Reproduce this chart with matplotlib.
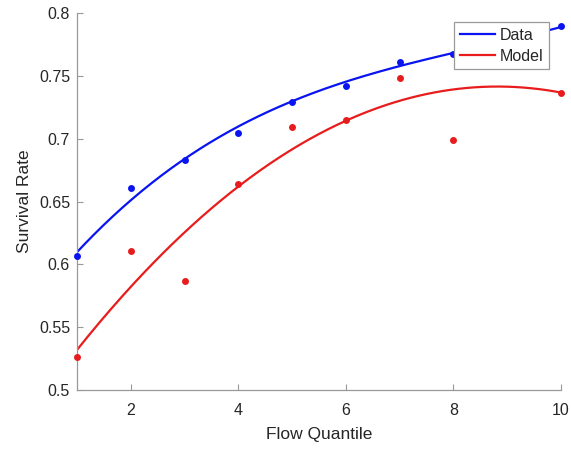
import numpy as np
import matplotlib
matplotlib.use("Agg")
import matplotlib.pyplot as plt

plt.rcParams['font.family'] = ['Liberation Sans', 'DejaVu Sans']

# observed points (quantile 9 is hidden behind the legend)
quantiles = [1, 2, 3, 4, 5, 6, 7, 8, 10]
data_rate = [0.607, 0.661, 0.683, 0.7045, 0.729, 0.742, 0.761, 0.767, 0.790]
model_rate = [0.526, 0.611, 0.587, 0.664, 0.709, 0.715, 0.748, 0.699, 0.736]

# trend-line values at each quantile
trend_quantiles = [1, 2, 3, 4, 5, 6, 7, 8, 10]
data_trend = [0.610, 0.651, 0.683, 0.7095, 0.7313, 0.7453, 0.7573, 0.768, 0.789]
model_trend = [0.532, 0.582, 0.6255, 0.662, 0.6915, 0.7143, 0.7301, 0.7392, 0.7367]

xticks = [2, 4, 6, 8, 10]
yticks = [0.5, 0.55, 0.6, 0.65, 0.7, 0.75, 0.8]
ytick_labels = ['0.5', '0.55', '0.6', '0.65', '0.7', '0.75', '0.8']

BLUE = '#0a14f0'
RED = '#e81c1c'
GRAY = '#999999'
TXT = '#262626'

fig = plt.figure(figsize=(5.71, 4.5), dpi=100)
ax = fig.add_axes([0.1349, 0.1333, 0.8476, 0.8378])

tx = np.array(trend_quantiles, dtype=float)
xf = np.linspace(1, 10, 300)
for pts, trend, col, lab in [(data_rate, data_trend, BLUE, 'Data'),
                             (model_rate, model_trend, RED, 'Model')]:
    coef = np.polyfit(tx, np.array(trend), 3)
    ax.plot(xf, np.polyval(coef, xf), color=col, lw=1.6, label=lab, zorder=2)
    ax.plot(quantiles, pts, 'o', color=col, ms=5, mec='none', clip_on=False, zorder=3)

ax.set_xlim(1, 10)
ax.set_ylim(0.5, 0.8)
ax.set_xticks(xticks)
ax.set_yticks(yticks)
ax.set_yticklabels(ytick_labels)
for s in ['top', 'right']:
    ax.spines[s].set_visible(False)
for s in ['left', 'bottom']:
    ax.spines[s].set_color(GRAY)
    ax.spines[s].set_linewidth(0.9)
ax.tick_params(direction='in', length=4, width=0.8, color=GRAY, labelcolor=TXT, labelsize=11.5)
ax.tick_params(axis='x', pad=9)
ax.tick_params(axis='y', pad=5)
ax.set_xlabel('Flow Quantile', fontsize=12.5, color=TXT, labelpad=7)
ax.set_ylabel('Survival Rate', fontsize=12.5, color=TXT, labelpad=5)

leg = ax.legend(loc='upper right', bbox_to_anchor=(0.975, 0.975), fontsize=11.5, frameon=True,
                fancybox=False, edgecolor=GRAY, framealpha=1, handlelength=2.2,
                handletextpad=0.3, borderpad=0.35, labelspacing=0.35, borderaxespad=0)
leg.get_frame().set_linewidth(0.9)
leg.set_zorder(5)
for t in leg.get_texts():
    t.set_color(TXT)

fig.savefig('out.png', dpi=100)
